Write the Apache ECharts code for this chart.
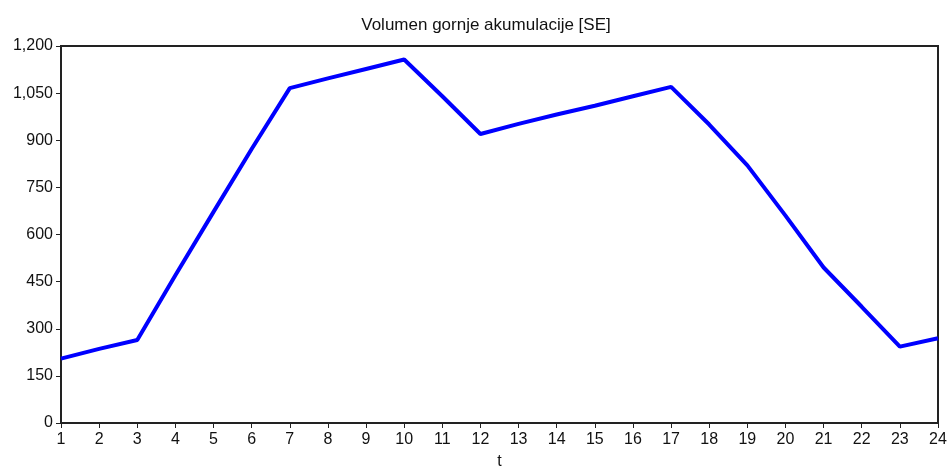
<!DOCTYPE html>
<html lang="en">
<head>
    <meta charset="UTF-8">
    <title>Volumen gornje akumulacije</title>
    <script src="https://cdn.jsdelivr.net/npm/echarts@6/dist/echarts.min.js"></script>
    <style>
        body { margin: 0; background: #fff; }
    </style>
</head>
<body>
    <div id="box" style="width: 948px; height: 468px;"></div>
</body>
<script>
    // sati (t) i volumen
    var hours = ['1','2','3','4','5','6','7','8','9','10','11','12','13','14','15','16','17','18','19','20','21','22','23','24']
    var volume = [205, 236, 264, 470, 672, 872, 1066, 1097, 1127, 1157, 1040, 920, 952, 982, 1010, 1040, 1070, 950, 820, 660, 495, 370, 243, 270]
    var yTicks = [0, 150, 300, 450, 600, 750, 900, 1050, 1200]

    var font = 'Liberation Sans, Arial, sans-serif'
    var mEcharts = echarts.init(document.querySelector('#box'))
    var option = {
        animation: false,
        title: {
            text: 'Volumen gornje akumulacije [SE]',
            left: 481,
            textAlign: 'center',
            top: 12,
            textStyle: { fontSize: 17, fontWeight: 'normal', color: '#111', fontFamily: font }
        },
        grid: {
            left: 61, right: 10, top: 46, bottom: 45,
            outerBoundsMode: 'none',
            containLabel: false,
            show: true, borderColor: '#222', borderWidth: 2, backgroundColor: '#fff'
        },
        xAxis: {
            type: 'category',
            data: hours,
            boundaryGap: false,
            name: 't',
            nameLocation: 'middle',
            nameGap: 31,
            nameTextStyle: { fontSize: 16, color: '#111', fontFamily: font },
            axisLine: { lineStyle: { color: '#222', width: 2 } },
            axisTick: { length: 5, alignWithLabel: true, lineStyle: { color: '#222' } },
            axisLabel: { fontSize: 16, color: '#111', margin: 9, fontFamily: font, interval: 0 },
            splitLine: { show: false }
        },
        yAxis: {
            type: 'value',
            min: yTicks[0],
            max: yTicks[yTicks.length - 1],
            interval: yTicks[1] - yTicks[0],
            axisLine: { show: true, lineStyle: { color: '#222', width: 2 } },
            axisTick: { show: true, length: 5, lineStyle: { color: '#222' } },
            axisLabel: {
                fontSize: 16, color: '#111', margin: 8, fontFamily: font,
                formatter: function (v) { return v.toLocaleString('en-US') }
            },
            splitLine: { show: false }
        },
        series: [{
            type: 'line',
            data: volume,
            showSymbol: false,
            lineStyle: { color: '#0000ff', width: 4 },
            itemStyle: { color: '#0000ff' }
        }]
    }
    mEcharts.setOption(option)
</script>
</html>
